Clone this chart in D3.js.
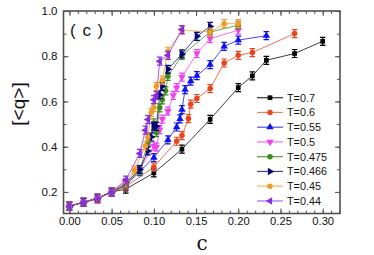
<!DOCTYPE html>
<html><head><meta charset="utf-8">
<script src="https://cdn.jsdelivr.net/npm/d3@7"></script>
<style>body{margin:0;background:#fff}svg{display:block}</style>
</head><body>
<svg id="chart" width="374" height="255"></svg>
<script>
// ---- data ----
const seriesLabels = ["T=0.7","T=0.6","T=0.55","T=0.5","T=0.475","T=0.466","T=0.45","T=0.44"];
const c_T070 = [0,0.0167,0.0333,0.05,0.0667,0.1,0.1333,0.1667,0.2,0.2167,0.2333,0.2667,0.3];
const q_T070 = [0.137,0.154,0.172,0.2,0.212,0.284,0.389,0.521,0.661,0.713,0.782,0.812,0.866];
const c_T060 = [0,0.0167,0.0333,0.05,0.0667,0.1,0.127,0.1333,0.141,0.1437,0.151,0.1667,0.1833,0.2,0.2167,0.2667];
const q_T060 = [0.137,0.154,0.168,0.2,0.222,0.31,0.424,0.449,0.524,0.588,0.613,0.657,0.77,0.804,0.816,0.9];
const c_T055 = [0,0.0167,0.0333,0.05,0.0667,0.0833,0.1,0.1167,0.127,0.131,0.1333,0.137,0.1437,0.151,0.1667,0.1833,0.2,0.2333];
const q_T055 = [0.137,0.154,0.172,0.2,0.228,0.29,0.352,0.43,0.487,0.523,0.564,0.652,0.69,0.714,0.763,0.844,0.871,0.891];
const c_T050 = [0,0.0167,0.0333,0.05,0.0667,0.0833,0.1,0.103,0.107,0.11,0.1167,0.123,0.127,0.1333,0.151,0.1667,0.2];
const q_T050 = [0.137,0.154,0.172,0.2,0.234,0.3,0.402,0.398,0.475,0.522,0.557,0.627,0.661,0.708,0.812,0.878,0.915];
const c_T0475 = [0,0.0167,0.0333,0.05,0.0667,0.0833,0.093,0.1,0.103,0.107,0.11,0.114,0.1167,0.1333,0.1667,0.2];
const q_T0475 = [0.137,0.154,0.172,0.2,0.23,0.293,0.42,0.505,0.462,0.572,0.607,0.647,0.711,0.804,0.907,0.937];
const c_T0466 = [0,0.0167,0.0333,0.05,0.0667,0.0833,0.093,0.097,0.1,0.103,0.107,0.11,0.1167,0.1333,0.151,0.1667];
const q_T0466 = [0.137,0.154,0.172,0.2,0.24,0.299,0.381,0.443,0.49,0.49,0.63,0.667,0.742,0.81,0.888,0.932];
const c_T045 = [0,0.0167,0.0333,0.05,0.0667,0.077,0.09,0.093,0.097,0.1,0.103,0.11,0.1167,0.1333,0.1667,0.1833,0.2];
const q_T045 = [0.137,0.154,0.172,0.2,0.24,0.296,0.403,0.443,0.551,0.573,0.667,0.694,0.822,0.915,0.907,0.944,0.944];
const c_T044 = [0,0.0167,0.0333,0.05,0.0667,0.0833,0.09,0.093,0.1,0.103,0.107,0.1167,0.1333];
const q_T044 = [0.137,0.154,0.172,0.2,0.252,0.37,0.473,0.52,0.608,0.627,0.778,0.804,0.918];
const xTicks = [0,0.05,0.10,0.15,0.20,0.25,0.30];
const yTicks = [0.2,0.4,0.6,0.8,1.0];

const cSeries = [c_T070,c_T060,c_T055,c_T050,c_T0475,c_T0466,c_T045,c_T044];
const qSeries = [q_T070,q_T060,q_T055,q_T050,q_T0475,q_T0466,q_T045,q_T044];

// ---- styles ----
const colors = ["#000000","#e8451e","#1010f0","#f040f0","#3c8c1c","#00007a","#f09a28","#8a2be2"];
const legendLine = ["#333333","#e8806a","#5050e8","#f070f0","#5a9a40","#40408a","#f0d0a0","#a070f0"];
const shapes = ["square","circle","up","down","circle","right","circle","left"];

const svg = d3.select("#chart");
const L = 63.5, R = 340, T = 11, B = 213.5;
const x = d3.scaleLinear().domain([-0.007, 0.3205]).range([L, R]);
const y = d3.scaleLinear().domain([0.1045, 1.0]).range([B, T]);
const axisColor = "#505050";

// frame
svg.append("rect").attr("x",L).attr("y",T).attr("width",R-L).attr("height",B-T)
  .attr("fill","none").attr("stroke",axisColor).attr("stroke-width",1.6);

function styleAxis(g){ g.select(".domain").remove(); g.selectAll("line").attr("stroke",axisColor).attr("stroke-width",1); }
const xMinor = d3.range(0, 0.321, 0.01);
const yMinor = d3.range(0.2, 1.001, 0.1);
const font = "'Liberation Sans', Arial, sans-serif";

const gxB = svg.append("g").attr("transform",`translate(0,${B})`)
  .call(d3.axisBottom(x).tickValues(xTicks).tickFormat(d3.format(".2f")).tickSizeInner(-5).tickSizeOuter(0).tickPadding(4));
styleAxis(gxB);
gxB.selectAll("text").attr("font-family",font).attr("font-size",11.2).attr("fill","#111");
const gxBm = svg.append("g").attr("transform",`translate(0,${B})`)
  .call(d3.axisBottom(x).tickValues(xMinor).tickFormat("").tickSizeInner(-3).tickSizeOuter(0));
styleAxis(gxBm);
const gxT = svg.append("g").attr("transform",`translate(0,${T})`)
  .call(d3.axisTop(x).tickValues(xTicks).tickFormat("").tickSizeInner(-5).tickSizeOuter(0));
styleAxis(gxT);
const gxTm = svg.append("g").attr("transform",`translate(0,${T})`)
  .call(d3.axisTop(x).tickValues(xMinor).tickFormat("").tickSizeInner(-3).tickSizeOuter(0));
styleAxis(gxTm);

const gyL = svg.append("g").attr("transform",`translate(${L},0)`)
  .call(d3.axisLeft(y).tickValues(yTicks).tickFormat(d3.format(".1f")).tickSizeInner(-5).tickSizeOuter(0).tickPadding(6));
styleAxis(gyL);
gyL.selectAll("text").attr("font-family",font).attr("font-size",11.5).attr("fill","#111");
const gyLm = svg.append("g").attr("transform",`translate(${L},0)`)
  .call(d3.axisLeft(y).tickValues(yMinor).tickFormat("").tickSizeInner(-3).tickSizeOuter(0));
styleAxis(gyLm);
const gyR = svg.append("g").attr("transform",`translate(${R},0)`)
  .call(d3.axisRight(y).tickValues(yTicks).tickFormat("").tickSizeInner(-5).tickSizeOuter(0));
styleAxis(gyR);
const gyRm = svg.append("g").attr("transform",`translate(${R},0)`)
  .call(d3.axisRight(y).tickValues(yMinor).tickFormat("").tickSizeInner(-3).tickSizeOuter(0));
styleAxis(gyRm);

// axis titles
svg.append("text").attr("x",202).attr("y",249.5).attr("text-anchor","middle")
  .attr("font-family","'DejaVu Serif',serif").attr("font-size",20).attr("fill","#111").text("c");
svg.append("text").attr("transform","translate(25,104) rotate(-90)").attr("text-anchor","middle")
  .attr("font-family",font).attr("font-size",19).attr("fill","#111").text("[<q>]");
svg.append("text").attr("x",70).attr("y",36).attr("font-family",font).attr("font-size",17)
  .attr("letter-spacing","1px").attr("fill","#111").text("( c )");

// markers
function drawMarker(g, shape, color, cx, cy, withErr){
  const s = g.append("g").attr("transform",`translate(${cx},${cy})`);
  if(withErr){
    s.append("path").attr("d","M-2.8,-4H2.8M0,-4V4M-2.8,4H2.8").attr("stroke",color).attr("stroke-width",1.2).attr("fill","none");
  }
  let sym, rot = 0, size = 24;
  if(shape==="square"){ sym = d3.symbolSquare; size = 22; }
  else if(shape==="circle"){ sym = d3.symbolCircle; size = 24; }
  else { sym = d3.symbolTriangle; size = 24; rot = {up:0,down:180,right:90,left:-90}[shape]; }
  s.append("path").attr("d",d3.symbol().type(sym).size(size)()).attr("transform",`rotate(${rot})`).attr("fill",color);
}

const line = d3.line().x(d=>x(d[0])).y(d=>y(d[1]));
const plot = svg.append("g");
cSeries.forEach((cs,i)=>{
  const pts = cs.map((c,j)=>[c,qSeries[i][j]]);
  plot.append("path").datum(pts).attr("d",line).attr("fill","none").attr("stroke",colors[i]).attr("stroke-width",0.9).attr("opacity",0.85);
});
cSeries.forEach((cs,i)=>{
  cs.forEach((c,j)=>drawMarker(plot, shapes[i], colors[i], x(c), y(qSeries[i][j]), true));
});

// legend
const lg = svg.append("g");
seriesLabels.forEach((lab,i)=>{
  const yy = 97.7 + i*14.75;
  lg.append("line").attr("x1",257).attr("x2",283).attr("y1",yy).attr("y2",yy).attr("stroke",legendLine[i]).attr("stroke-width",i===6?2:1.2);
  drawMarker(lg, shapes[i], colors[i], 270, yy, false);
  lg.append("text").attr("x",287).attr("y",yy+3.8).attr("font-family",font).attr("font-size",10.8).attr("fill","#111").text(lab);
});
</script>
</body></html>
